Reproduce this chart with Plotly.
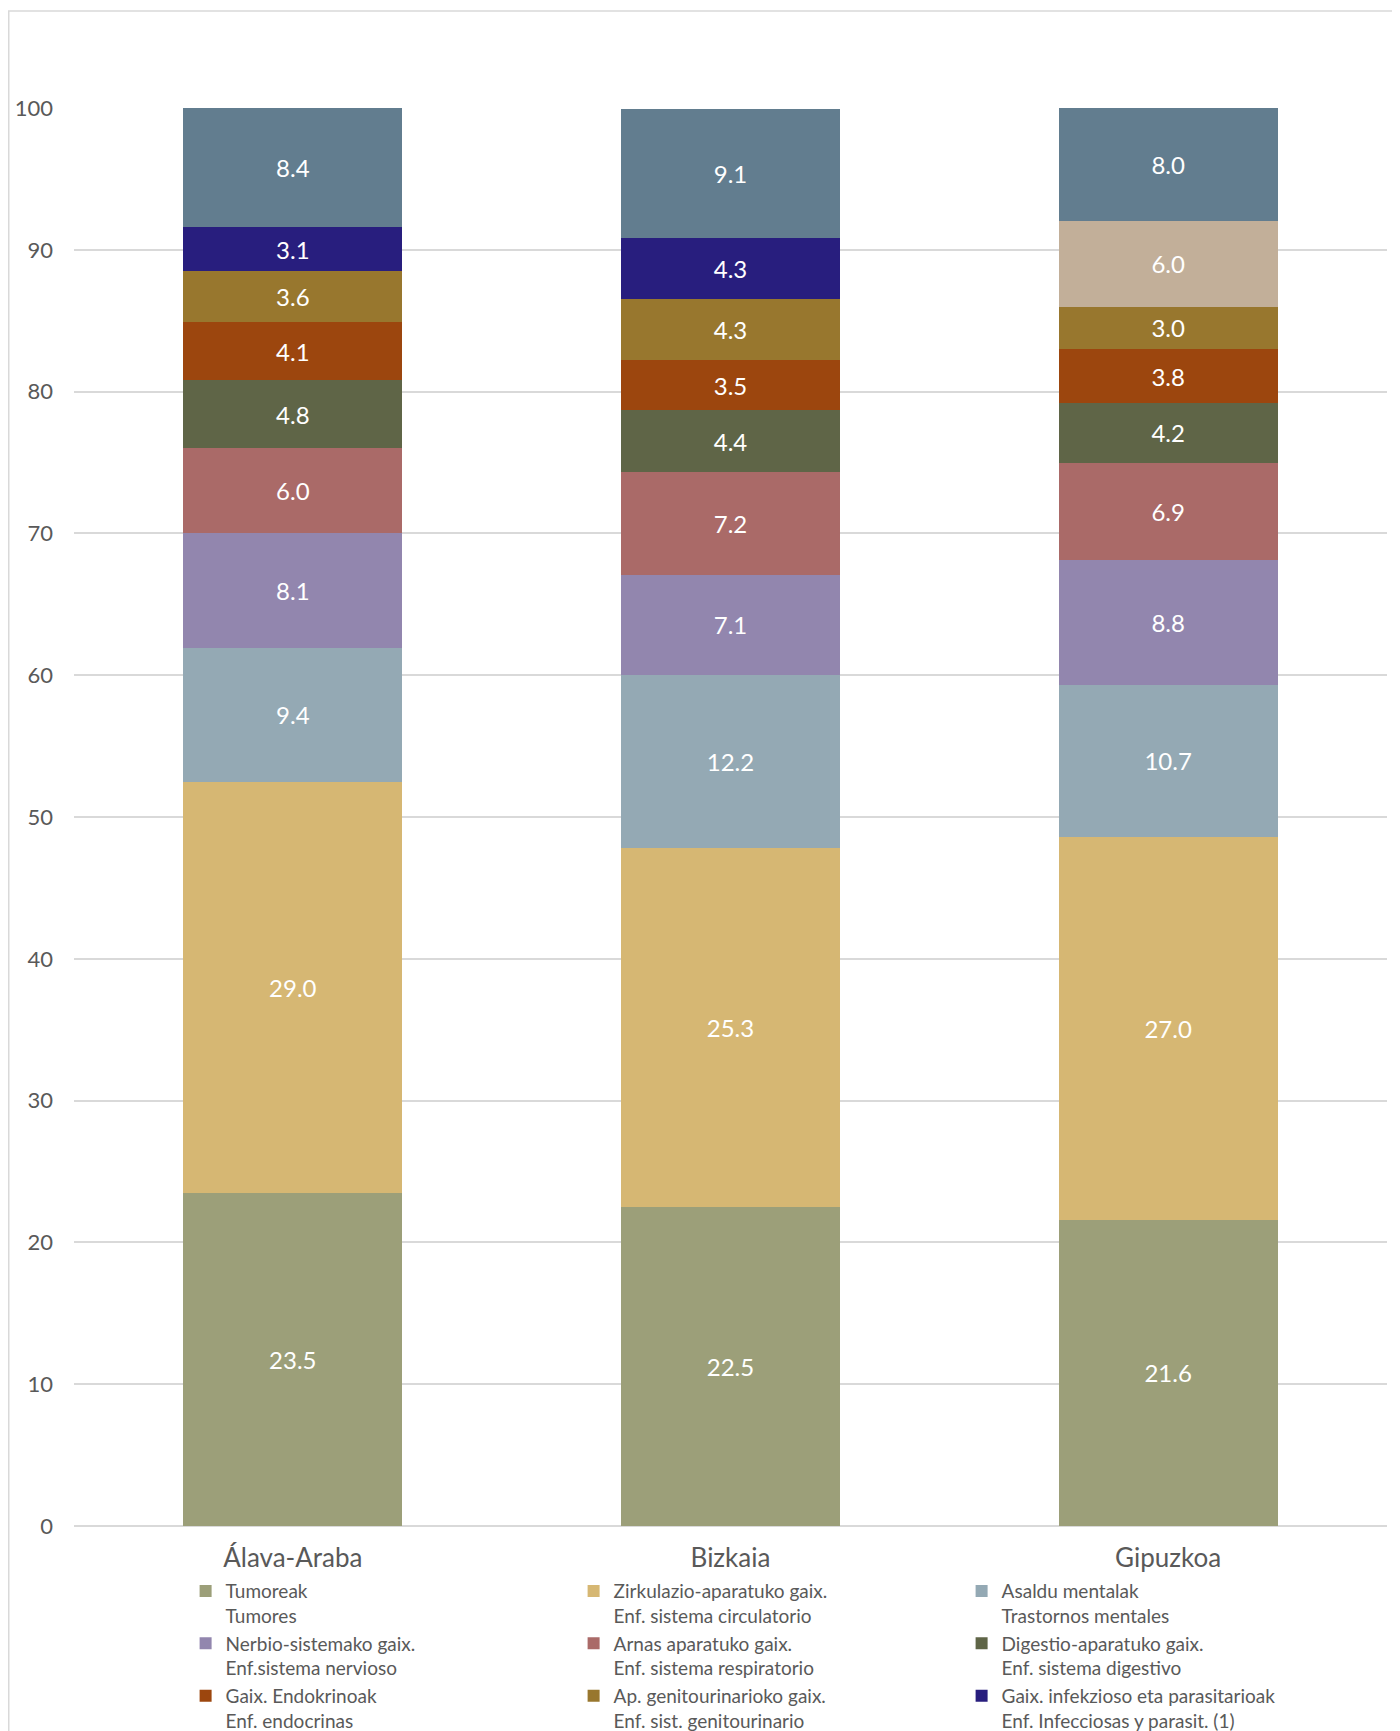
import plotly.graph_objects as go

categories = ["Álava-Araba", "Bizkaia", "Gipuzkoa"]

series_names = [
    "Tumoreak<br>Tumores",
    "Zirkulazio-aparatuko gaix.<br>Enf. sistema circulatorio",
    "Asaldu mentalak<br>Trastornos mentales",
    "Nerbio-sistemako gaix.<br>Enf.sistema nervioso",
    "Arnas aparatuko gaix.<br>Enf. sistema respiratorio",
    "Digestio-aparatuko gaix.<br>Enf. sistema digestivo",
    "Gaix. Endokrinoak<br>Enf. endocrinas",
    "Ap. genitourinarioko gaix.<br>Enf. sist. genitourinario",
    "Gaix. infekzioso eta parasitarioak<br>Enf. Infecciosas y parasit. (1)",
    "Kanpoko kausak<br>Causas externas",
    "Gainerakoak<br>Resto",
]

tumoreak = [23.5, 22.5, 21.6]
zirkulazio = [29.0, 25.3, 27.0]
asaldu = [9.4, 12.2, 10.7]
nerbio = [8.1, 7.1, 8.8]
arnas = [6.0, 7.2, 6.9]
digestio = [4.8, 4.4, 4.2]
endokrino = [4.1, 3.5, 3.8]
genito = [3.6, 4.3, 3.0]
infekzio = [3.1, 4.3, None]
kanpo = [None, None, 6.0]
gainerakoak = [8.4, 9.1, 8.0]

series_values = [tumoreak, zirkulazio, asaldu, nerbio, arnas, digestio,
                 endokrino, genito, infekzio, kanpo, gainerakoak]

colors = ["#9C9F79", "#D6B773", "#94A9B4", "#9286AE", "#AA6A68", "#5F6547",
          "#9C460E", "#98772E", "#281E7E", "#C2AF99", "#627D8F"]
in_legend = [True] * 9 + [False, False]

y_ticks = list(range(0, 101, 10))

FONT = "Century Gothic, Lato, sans-serif"
GREY = "#595959"

fig = go.Figure()
for name, vals, col, leg in zip(series_names, series_values, colors, in_legend):
    fig.add_trace(go.Bar(
        x=categories, y=vals, name=name,
        marker=dict(color=col, line=dict(width=0)),
        text=[None if v is None else f"{v:.1f}" for v in vals],
        textposition="inside", insidetextanchor="middle", textangle=0,
        constraintext="none",
        textfont=dict(family=FONT, size=24, color="white"),
        showlegend=leg,
        hoverinfo="skip",
    ))

fig.update_layout(
    width=1392, height=1723,
    barmode="stack", bargap=0.5,
    paper_bgcolor="white", plot_bgcolor="white",
    margin=dict(l=66, r=13, t=100, b=205, autoexpand=False),
    font=dict(family=FONT, color=GREY),
    legend=dict(
        orientation="h", traceorder="normal", valign="top",
        x=0.085, y=-0.0325, xanchor="left", yanchor="top",
        entrywidth=343, entrywidthmode="pixels",
        font=dict(family=FONT, size=19, color=GREY),
        itemwidth=30, tracegroupgap=0,
    ),
    shapes=[dict(type="rect", xref="paper", yref="paper",
                 x0=-0.0497, x1=1.05, y0=-0.3, y1=1.0684,
                 line=dict(color="#d9d9d9", width=1.5), fillcolor="rgba(0,0,0,0)",
                 layer="below")],
)

fig.update_yaxes(
    range=[0, 100], tickvals=y_ticks, showgrid=True, gridcolor="#d9d9d9", gridwidth=1.5,
    zeroline=True, zerolinecolor="#d9d9d9", zerolinewidth=1.5,
    showline=False, ticks="", ticklabelstandoff=20,
    tickfont=dict(family=FONT, size=22, color=GREY),
)
fig.update_xaxes(
    showline=False, ticks="", ticklabelstandoff=14,
    tickfont=dict(family=FONT, size=26, color=GREY),
)

fig.write_html("out.html")
